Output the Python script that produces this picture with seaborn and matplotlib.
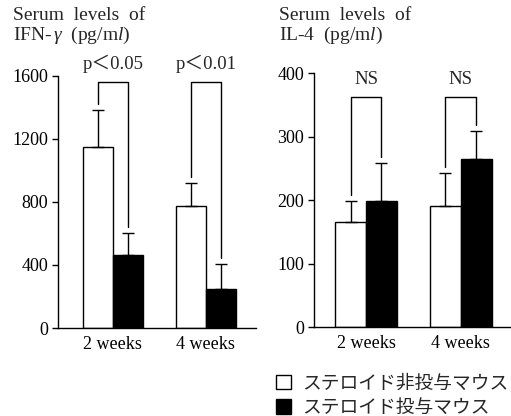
import matplotlib
matplotlib.use("Agg")
import matplotlib.pyplot as plt
from matplotlib.patches import Patch
import seaborn as sns
import pandas as pd

# Groups and time points
weeks = ["2 weeks", "4 weeks"]
groups = ["ステロイド非投与マウス", "ステロイド投与マウス"]

# IFN-γ (pg/ml): means and SD
ifn_control = [1150, 770]
ifn_control_sd = [230, 148]
ifn_steroid = [465, 245]
ifn_steroid_sd = [135, 160]

# IL-4 (pg/ml): means and SD
il4_control = [165, 190]
il4_control_sd = [33, 52]
il4_steroid = [198, 265]
il4_steroid_sd = [60, 43]

# Significance labels per time point
ifn_sig = ["p＜0.05", "p＜0.01"]
il4_sig = ["NS", "NS"]

ifn_ticks = [0, 400, 800, 1200, 1600]
il4_ticks = [0, 100, 200, 300, 400]

sns.set_style("ticks")
plt.rcParams["font.family"] = ["Liberation Serif", "Noto Sans CJK JP"]
plt.rcParams["mathtext.fontset"] = "custom"
plt.rcParams["mathtext.rm"] = "Liberation Serif"
plt.rcParams["mathtext.it"] = "Liberation Serif:italic"

palette = {groups[0]: "white", groups[1]: "black"}


def make_frame(ctrl, ster, ctrl_sd, ster_sd):
    return pd.DataFrame({
        "week": weeks * 2,
        "group": [groups[0]] * 2 + [groups[1]] * 2,
        "value": ctrl + ster,
        "sd": ctrl_sd + ster_sd,
    })


def panel(ax, df, ticks, sig, gap, bracket_top, xlim):
    sns.barplot(data=df, x="week", y="value", hue="group", hue_order=groups,
                palette=palette, edgecolor="black", linewidth=1.0,
                width=0.65, errorbar=None, legend=False, ax=ax)
    bar_containers = list(ax.containers)
    tops = {}
    for gi, cont in enumerate(bar_containers):
        sub = df[df["group"] == groups[gi]]
        xs = [b.get_x() + b.get_width() / 2 for b in cont]
        ys = list(sub["value"])
        sds = list(sub["sd"])
        ax.errorbar(xs, ys, yerr=[[0] * len(sds), sds], fmt="none",
                    ecolor="black", elinewidth=1.0, capsize=4, capthick=1.0,
                    zorder=3)
        tops[gi] = [(x, y + s) for x, y, s in zip(xs, ys, sds)]
    for i, label in enumerate(sig):
        (x0, t0), (x1, t1) = tops[0][i], tops[1][i]
        ax.plot([x0, x0, x1, x1], [t0 + gap, bracket_top, bracket_top, t1 + gap],
                color="black", lw=1.0, clip_on=False)
        ax.text((x0 + x1) / 2, bracket_top + gap * 1.4, label, ha="center",
                va="bottom", fontsize=13.5)
    ax.set_ylim(ticks[0], ticks[-1])
    ax.set_yticks(ticks)
    ax.set_xlim(*xlim)
    ax.set_xlabel("")
    ax.set_ylabel("")
    sns.despine(ax=ax)
    for s in ("left", "bottom"):
        ax.spines[s].set_color("black")
        ax.spines[s].set_linewidth(1.0)
    ax.tick_params(axis="y", direction="out", length=4, width=1.0,
                   labelsize=13, pad=3, colors="black")
    ax.tick_params(axis="x", length=0, labelsize=13, pad=6, colors="black")


fig = plt.figure(figsize=(5.11, 4.16), dpi=100)
ax1 = fig.add_axes([0.1135, 0.2115, 0.3875, 0.607])
ax2 = fig.add_axes([0.6145, 0.2139, 0.3836, 0.6106])

panel(ax1, make_frame(ifn_control, ifn_steroid, ifn_control_sd, ifn_steroid_sd),
      ifn_ticks, ifn_sig, 40, 1562, (-0.59, 1.54))
panel(ax2, make_frame(il4_control, il4_steroid, il4_control_sd, il4_steroid_sd),
      il4_ticks, il4_sig, 10, 362, (-0.55, 1.52))

fig.text(13 / 511, 1 - 7 / 416, "Serum  levels  of\nIFN-$\\,\\gamma$  (pg/m$\\mathit{l}$)",
         ha="left", va="top", fontsize=14, linespacing=1.05)
fig.text(279 / 511, 1 - 7 / 416, "Serum  levels  of\nIL-4  (pg/m$\\mathit{l}$)",
         ha="left", va="top", fontsize=14, linespacing=1.05)

handles = [Patch(facecolor=palette[g], edgecolor="black", linewidth=1.0) for g in groups]
fig.legend(handles, groups, loc="upper left", bbox_to_anchor=(276 / 511, 1 - 375 / 416),
           frameon=False, fontsize=13.5, handlelength=0.8, handleheight=0.8,
           handletextpad=0.6, labelspacing=0.35, borderpad=0, borderaxespad=0)

fig.savefig("out.png", dpi=100)
